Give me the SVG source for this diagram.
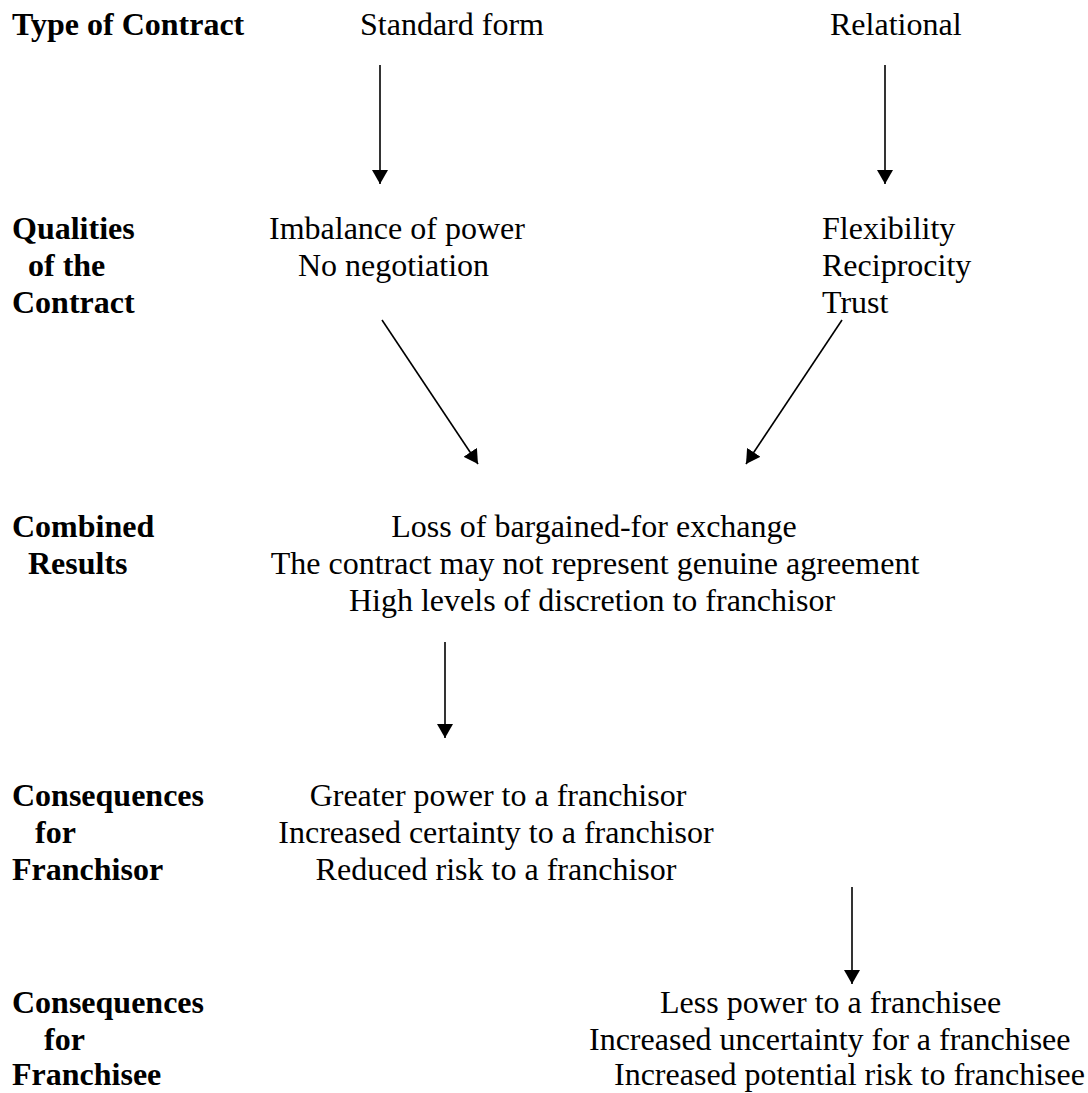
<svg xmlns="http://www.w3.org/2000/svg" width="1088" height="1093" viewBox="0 0 1088 1093">
<style>
text{font-family:"Liberation Serif","Times New Roman",serif;font-size:32px;fill:#000}
.b{font-weight:bold}
.c{stroke:#000;stroke-width:1.6;fill:none}
</style>
<defs>
<marker id="ah" viewBox="0 0 14 16" refX="14" refY="8" markerWidth="14" markerHeight="16" markerUnits="userSpaceOnUse" orient="auto">
<path d="M0,0 L14,8 L0,16 z" fill="#000"/>
</marker>
</defs>
<rect width="1088" height="1093" fill="#fff"/>
<g id="row-type">
<text class="b" x="12" y="35">Type of Contract</text>
<text x="360" y="35">Standard form</text>
<text x="830" y="35">Relational</text>
</g>
<g id="row-qualities">
<text class="b" x="12" y="239">Qualities</text>
<text class="b" x="28" y="276">of the</text>
<text class="b" x="12" y="313">Contract</text>
</g>
<g id="node-standard-qualities">
<text x="269" y="239">Imbalance of power</text>
<text x="298" y="276">No negotiation</text>
</g>
<g id="node-relational-qualities">
<text x="822" y="239">Flexibility</text>
<text x="822" y="276">Reciprocity</text>
<text x="822" y="313">Trust</text>
</g>
<g id="row-combined">
<text class="b" x="12" y="537">Combined</text>
<text class="b" x="28" y="574">Results</text>
</g>
<g id="node-combined" text-anchor="middle">
<text x="594" y="537">Loss of bargained-for exchange</text>
<text x="595" y="574">The contract may not represent genuine agreement</text>
<text x="592" y="611">High levels of discretion to franchisor</text>
</g>
<g id="row-franchisor">
<text class="b" x="12" y="806">Consequences</text>
<text class="b" x="35" y="843">for</text>
<text class="b" x="12" y="880">Franchisor</text>
</g>
<g id="node-franchisor" text-anchor="middle">
<text x="498" y="806">Greater power to a franchisor</text>
<text x="496" y="843">Increased certainty to a franchisor</text>
<text x="496" y="880">Reduced risk to a franchisor</text>
</g>
<g id="row-franchisee">
<text class="b" x="12" y="1013">Consequences</text>
<text class="b" x="44" y="1050">for</text>
<text class="b" x="12" y="1085">Franchisee</text>
</g>
<g id="node-franchisee">
<text x="660" y="1013">Less power to a franchisee</text>
<text x="589" y="1050">Increased uncertainty for a franchisee</text>
<text x="614" y="1085">Increased potential risk to franchisee</text>
</g>
<g id="connectors" class="c">
<line class="c" x1="380" y1="65" x2="380" y2="184" marker-end="url(#ah)"/>
<line class="c" x1="885" y1="65" x2="885" y2="184" marker-end="url(#ah)"/>
<line class="c" x1="382" y1="320" x2="478" y2="464" marker-end="url(#ah)"/>
<line class="c" x1="842" y1="320" x2="746" y2="464" marker-end="url(#ah)"/>
<line class="c" x1="445" y1="642" x2="445" y2="738" marker-end="url(#ah)"/>
<line class="c" x1="852" y1="887" x2="852" y2="984" marker-end="url(#ah)"/>
</g>
</svg>
